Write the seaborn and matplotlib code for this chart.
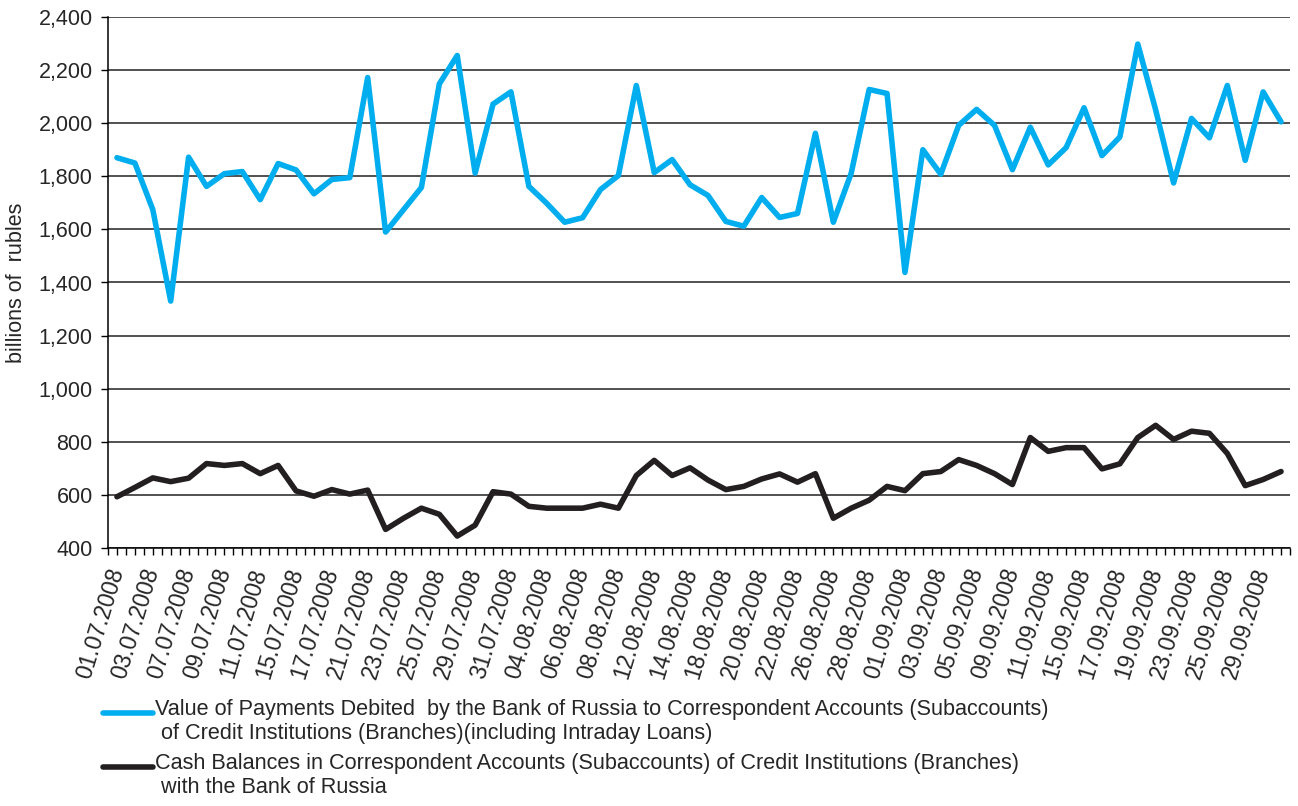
import numpy as np
import pandas as pd
import matplotlib
matplotlib.use("Agg")
import matplotlib.pyplot as plt
from matplotlib.lines import Line2D
from matplotlib.ticker import FuncFormatter
import seaborn as sns

# -------------------------------
# Data (billions of rubles, business days Jul-Sep 2008)
# -------------------------------
dates = pd.bdate_range("2008-07-01", "2008-09-30").strftime("%d.%m.%Y").tolist()

payments = [1870, 1850, 1675, 1330, 1872, 1762, 1810, 1818, 1712, 1848,
            1824, 1734, 1788, 1795, 2172, 1590, 1674, 1758, 2148, 2255,
            1812, 2072, 2118, 1762, 1698, 1627, 1644, 1750, 1803, 2142,
            1814, 1863, 1768, 1728, 1630, 1612, 1720, 1645, 1660, 1962,
            1627, 1812, 2127, 2112, 1438, 1900, 1808, 1992, 2052, 1992,
            1825, 1985, 1843, 1908, 2058, 1878, 1948, 2298, 2050, 1775,
            2018, 1945, 2142, 1860, 2118, 2005]

balances = [593, 628, 664, 650, 663, 718, 711, 718, 680, 711,
            615, 595, 620, 603, 618, 470, 512, 550, 527, 445,
            486, 612, 603, 557, 550, 550, 550, 565, 550, 673,
            730, 673, 702, 656, 620, 632, 660, 679, 648, 680,
            512, 550, 580, 632, 616, 680, 688, 733, 711, 680,
            639, 816, 764, 778, 778, 698, 717, 816, 862, 809,
            840, 832, 756, 635, 658, 688]

label_payments = ("Value of Payments Debited  by the Bank of Russia to Correspondent Accounts (Subaccounts)\n"
                  " of Credit Institutions (Branches)(including Intraday Loans)")
label_balances = ("Cash Balances in Correspondent Accounts (Subaccounts) of Credit Institutions (Branches)\n"
                  " with the Bank of Russia")

df = pd.DataFrame({"idx": np.arange(len(dates)), "date": dates,
                   "payments": payments, "balances": balances})

# -------------------------------
# Plot
# -------------------------------
sns.set_style("white")
plt.rcParams["font.family"] = ["Liberation Sans", "DejaVu Sans"]

blue = "#00aeef"
dark = "#231f20"

fig = plt.figure(figsize=(12.98, 8.06), dpi=100)
ax = fig.add_axes([108 / 1298, 1 - 548 / 806, (1290 - 108) / 1298, (548 - 17) / 806])

sns.lineplot(data=df, x="idx", y="payments", ax=ax, color=blue, linewidth=4)
sns.lineplot(data=df, x="idx", y="balances", ax=ax, color=dark, linewidth=4)

ax.set_xlim(-0.5, len(dates) - 0.5)
ax.set_ylim(400, 2400)
ax.set_yticks(range(400, 2401, 200))
ax.yaxis.set_major_formatter(FuncFormatter(lambda v, p: f"{int(v):,}"))
ax.grid(axis="y", color="#222222", linewidth=1.1)
ax.set_axisbelow(True)

ax.set_xticks(df["idx"][::2])
ax.set_xticklabels(df["date"][::2], rotation=73, ha="right", va="center",
                   rotation_mode="anchor")
ax.set_xticks(np.arange(-0.5, len(dates), 0.5), minor=True)
ax.tick_params(axis="x", which="both", direction="out", length=5, width=1,
               color="black", bottom=True, labelsize=16.5, pad=10)
ax.tick_params(axis="y", direction="out", length=5, width=1, color="black",
               left=True, labelsize=15.5, pad=6)

for s in ["top", "right"]:
    ax.spines[s].set_visible(False)
for s in ["left", "bottom"]:
    ax.spines[s].set_color("black")
    ax.spines[s].set_linewidth(1.1)

ax.set_xlabel("")
ax.set_ylabel("billions of  rubles", fontsize=15.5, labelpad=8)

# legend drawn below the axes, handle aligned with the first text line
for y0, col, txt in [(713, blue, label_payments), (767, dark, label_balances)]:
    fig.add_artist(Line2D([103 / 1298, 153 / 1298], [1 - y0 / 806, 1 - y0 / 806],
                          color=col, linewidth=4, transform=fig.transFigure))
    fig.text(155 / 1298, 1 - (y0 - 14) / 806, txt, fontsize=15.6, va="top",
             ha="left", linespacing=1.2)

plt.savefig("out.png", dpi=100)
